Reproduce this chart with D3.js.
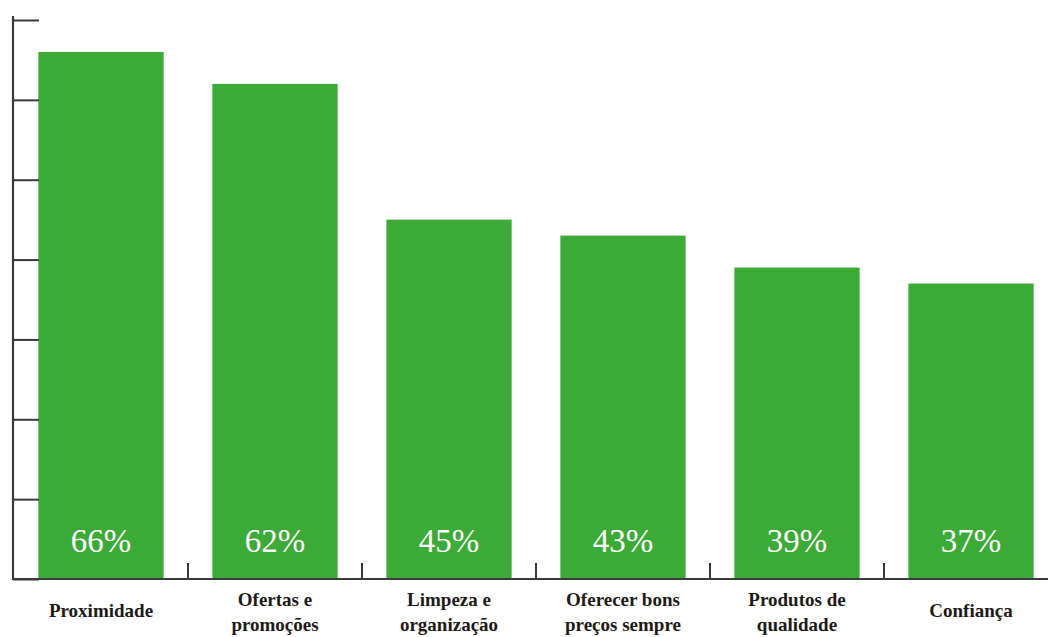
<!DOCTYPE html>
<meta charset="utf-8">
<script src="https://d3js.org/d3.v7.min.js"></script>
<style>
  body { margin: 0; background: #fff; }
</style>
<div id="my_dataviz"></div>
<script>

// data
var categories = ["Proximidade", "Ofertas e|promoções", "Limpeza e|organização",
                  "Oferecer bons|preços sempre", "Produtos de|qualidade", "Confiança"];
var values = [66, 62, 45, 43, 39, 37];
var yTicks = [0, 10, 20, 30, 40, 50, 60, 70];

var width = 1048, height = 637;
var left = 13, baseY = 579, topY = 20;

var svg = d3.select("#my_dataviz")
  .append("svg")
    .attr("width", width)
    .attr("height", height);

// x: one band per category
var x = d3.scaleBand()
  .domain(categories)
  .range([left + 1, 1058])
  .paddingInner(0.28)
  .paddingOuter(0.14);

var y = d3.scaleLinear()
  .domain([0, 70])
  .range([baseY, topY]);

var green = "#3caa36";
var axisColor = "#3a3a3a";

// bars
svg.selectAll(".bar")
  .data(values)
  .enter()
  .append("rect")
    .attr("class", "bar")
    .attr("x", function(d, i) { return x(categories[i]); })
    .attr("y", function(d) { return y(d); })
    .attr("width", x.bandwidth())
    .attr("height", function(d) { return baseY - y(d); })
    .attr("fill", green);

// value labels inside the bars
svg.selectAll(".val")
  .data(values)
  .enter()
  .append("text")
    .attr("class", "val")
    .attr("x", function(d, i) { return x(categories[i]) + x.bandwidth() / 2; })
    .attr("y", 552)
    .attr("text-anchor", "middle")
    .attr("font-family", "Liberation Serif, serif")
    .attr("font-size", 33)
    .attr("fill", "#fff")
    .text(function(d) { return d + "%"; });

// y axis (ticks pointing right, no labels)
var yAxis = d3.axisRight(y)
  .tickValues(yTicks)
  .tickSize(26)
  .tickSizeOuter(0)
  .tickFormat("");
var gy = svg.append("g")
  .attr("transform", "translate(" + left + ",0)")
  .call(yAxis);
gy.select(".domain").remove();
gy.selectAll(".tick line").attr("stroke", axisColor).attr("stroke-width", 2);
svg.append("line")
  .attr("x1", left).attr("x2", left)
  .attr("y1", 16).attr("y2", baseY + 1)
  .attr("stroke", axisColor).attr("stroke-width", 2.2);

// x axis: baseline with small ticks between the bars
var step = x.step();
var bounds = categories.slice(0, -1).map(function(c) {
  return x(c) + x.bandwidth() + step * x.paddingInner() / 2;
});
svg.append("line")
  .attr("x1", left).attr("x2", width)
  .attr("y1", baseY).attr("y2", baseY)
  .attr("stroke", axisColor).attr("stroke-width", 2);
svg.selectAll(".xtick")
  .data(bounds)
  .enter()
  .append("line")
    .attr("class", "xtick")
    .attr("x1", function(d) { return d; })
    .attr("x2", function(d) { return d; })
    .attr("y1", baseY - 16)
    .attr("y2", baseY)
    .attr("stroke", axisColor)
    .attr("stroke-width", 2);

// category labels, one or two lines
var labels = svg.selectAll(".cat")
  .data(categories)
  .enter()
  .append("text")
    .attr("class", "cat")
    .attr("text-anchor", "middle")
    .attr("font-family", "Liberation Serif, serif")
    .attr("font-weight", "bold")
    .attr("font-size", 19)
    .attr("fill", "#1e1a16");

labels.each(function(d) {
  var lines = d.split("|");
  var cx = x(d) + x.bandwidth() / 2;
  var first = lines.length === 1 ? 617 : 606;
  d3.select(this).selectAll("tspan")
    .data(lines)
    .enter()
    .append("tspan")
      .attr("x", cx)
      .attr("y", function(l, i) { return first + i * 25; })
      .text(function(l) { return l; });
});

</script>
